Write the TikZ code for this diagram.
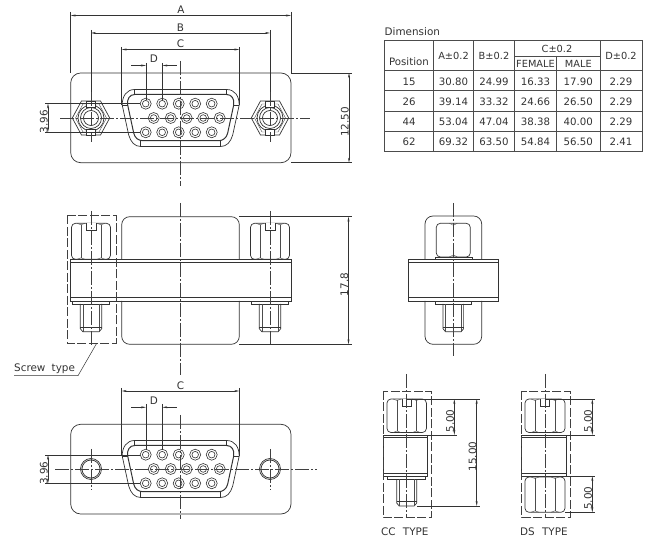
\documentclass[tikz,border=0pt]{standalone}
\usepackage{fontspec}
\setmainfont{DejaVu Sans}
\usetikzlibrary{arrows.meta}

\tikzset{
    part/.style={draw=black!80, line width=0.7pt},
    thin part/.style={draw=black!70, line width=0.4pt},
    center line/.style={draw=black!75, line width=0.5pt, dash pattern=on 14pt off 2pt on 2pt off 2pt},
    dash box/.style={draw=black!75, line width=0.6pt, dash pattern=on 9pt off 2.5pt},
    dim line/.style={draw=black!80, line width=0.5pt, {Stealth[length=5pt,width=2pt]}-{Stealth[length=5pt,width=2pt]}},
    one arrow/.style={draw=black!80, line width=0.5pt, -{Stealth[length=5pt,width=2pt]}},
    ext line/.style={draw=black!80, line width=0.5pt},
    grid line/.style={draw=black!70, line width=0.9pt},
    label/.style={font=\fontsize{10.4}{10}\selectfont, text=black!80, inner sep=0pt},
    vlabel/.style={label, rotate=90, anchor=south, xshift=-4pt},
    cell/.style={font=\fontsize{10.2}{10}\selectfont, text=black!80, inner sep=0pt},
    small cell/.style={font=\fontsize{9.8}{10}\selectfont, text=black!80, inner sep=0pt},
    pin/.style={draw=black!80, line width=0.6pt},
    dsub/.pic={
        \draw[part] (-46,-28.5) -- (46,-28.5) .. controls (54,-28.5) and (58.5,-22) .. (58.5,-13) -- (52,17) .. controls (50,24) and (46,28.5) .. (40,28.5) -- (-40,28.5) .. controls (-46,28.5) and (-50,24) .. (-52,17) -- (-58.5,-13) .. controls (-58.5,-22) and (-54,-28.5) .. cycle;
        \draw[part, line width=1pt] (-46,-23.5) -- (46,-23.5) .. controls (51,-23.5) and (54,-19) .. (53,-13) -- (47,15) .. controls (46,20) and (42,22.7) .. (38,22.7) -- (-38,22.7) .. controls (-42,22.7) and (-46,20) .. (-47,15) -- (-53,-13) .. controls (-54,-19) and (-51,-23.5) .. cycle;
        \draw[part] (-46,-28.5) -- (-46,-23.5) (46,-28.5) -- (46,-23.5) (-40,28.5) -- (-40,22.7) (40,28.5) -- (40,22.7);
        \draw[part] (-58.5,-13) -- (-53,-13) (58.5,-13) -- (53,-13);
        \foreach \px in {-35,-18.5,-2,14.5,31} {
            \draw[pin] (\px,-14.3) circle (5.5) (\px,-14.3) circle (3.3);
            \draw[pin] (\px,14.3) circle (5.5) (\px,14.3) circle (3.3);
        }
        \foreach \px in {-27,-10,6,22.5,39} {
            \draw[pin] (\px,0) circle (5.5) (\px,0) circle (3.3);
        }
    },
    jackscrew/.pic={
        \draw[part] (-18.7,0) -- (-9.5,-17) -- (9.5,-17) -- (18.7,0) -- (9.5,17) -- (-9.5,17) -- cycle;
        \draw[thin part] (-15.5,0) -- (-8,-14) -- (8,-14) -- (15.5,0) -- (8,14) -- (-8,14) -- cycle;
        \draw[part] (0,0) circle (13) (0,0) circle (10.5) (0,0) circle (7.5);
        \draw[part, fill=white] (-4.5,-17) rectangle (4.5,-11);
        \draw[part, fill=white] (-4.5,17) rectangle (4.5,11);
    }
}

% hexnut: centre x, half width, inner face, top, bottom
\newcommand{\hexnut}[5]{
    \draw[part, rounded corners=4pt] ({#1-#2},#4) rectangle ({#1+#2},#5);
    \ifdim #3pt>0pt
        \draw[thin part] ({#1-#3},{#4+1.5}) -- ({#1-#3},{#5-1.5}) ({#1+#3},{#4+1.5}) -- ({#1+#3},{#5-1.5});
        \draw[thin part] ({#1-#3-4},#4) -- ({#1-#3},{#4+1.5}) -- ({#1-#3+4},#4) ({#1+#3-4},#4) -- ({#1+#3},{#4+1.5}) -- ({#1+#3+4},#4);
        \draw[thin part] ({#1-#3-4},#5) -- ({#1-#3},{#5-1.5}) -- ({#1-#3+4},#5) ({#1+#3-4},#5) -- ({#1+#3},{#5-1.5}) -- ({#1+#3+4},#5);
    \else
        \draw[thin part] ({#1-4},#4) -- (#1,{#4+2}) -- ({#1+4},#4) ({#1-4},#5) -- (#1,{#5-2}) -- ({#1+4},#5);
    \fi
}
% slotcut: centre x, half width, top, bottom
\newcommand{\slotcut}[4]{
    \draw[part, fill=white] ({#1-#2},#3) -- ({#1-#2},#4) -- ({#1+#2},#4) -- ({#1+#2},#3);
}
% studend: centre x, half width, top, bottom
\newcommand{\studend}[4]{
    \draw[part] ({#1-#2},#3) -- ({#1-#2},{#4-3}) -- ({#1-#2+2.5},#4) -- ({#1+#2-2.5},#4) -- ({#1+#2},{#4-3}) -- ({#1+#2},#3);
    \draw[thin part] ({#1-#2+2.5},#3) -- ({#1-#2+2.5},#4) ({#1+#2-2.5},#3) -- ({#1+#2-2.5},#4);
    \draw[part] ({#1-#2},{#4-4.5}) -- ({#1+#2},{#4-4.5});
}
% flangebar: left, right, four y levels
\newcommand{\flangebar}[6]{
    \draw[part] (#1,#3) rectangle (#2,#6);
    \draw[part] (#1,#4) -- (#2,#4) (#1,#5) -- (#2,#5);
}

\begin{document}
\begin{tikzpicture}[x=1pt, y=-1pt]
    \useasboundingbox (0,0) rectangle (657,548);

    % front view
    \draw[part, rounded corners=10pt] (70.7,73) rectangle (291,162.7);
    \pic at (180.7,118) {dsub};
    \pic at (91,118) {jackscrew};
    \pic at (270,118) {jackscrew};
    \draw[center line] (60,118) -- (310,118);
    \draw[center line] (180.7,61) -- (180.7,186);
    \draw[center line] (91,92) -- (91,142);
    \draw[center line] (270,92) -- (270,142);

    \draw[ext line] (70.7,12) -- (70.7,73) (291,12) -- (291,73);
    \draw[dim line] (70.7,15.5) -- node[label, above=1.5pt] (dim_a) {A} (291,15.5);
    \draw[ext line] (91,30) -- (91,92) (270,30) -- (270,92);
    \draw[dim line] (91,33) -- node[label, above=1.5pt] (dim_b) {B} (270,33);
    \draw[ext line] (121.7,47) -- (121.7,105) (239.3,47) -- (239.3,105);
    \draw[dim line] (121.7,49.5) -- node[label, above=1.5pt] (dim_c) {C} (239.3,49.5);
    \draw[ext line] (146,63) -- (146,100) (162.3,63) -- (162.3,100);
    \draw[one arrow] (131,65.5) -- (146,65.5);
    \draw[one arrow] (176.7,65.5) -- (162.3,65.5);
    \node[label] (dim_d) at (154,59) {D};
    \draw[ext line] (45,103.5) -- (140,103.5) (45,132) -- (140,132);
    \draw[dim line] (48,103.5) -- node[vlabel] (dim_pitch) {3.96} (48,132);
    \draw[ext line] (291,73) -- (352,73) (291,162.7) -- (352,162.7);
    \draw[dim line] (349,73) -- node[vlabel] (dim_height) {12.50} (349,162.7);

    % side view
    \draw[part, rounded corners=8pt] (121.7,259.3) -- (121.7,216.7) -- (239.3,216.7) -- (239.3,259.3);
    \draw[part, rounded corners=8pt] (121.7,301) -- (121.7,344.3) -- (239.3,344.3) -- (239.3,301);
    \flangebar{70.7}{291}{259.3}{262.5}{297.7}{301}
    \foreach \sx in {91,270} {
        \hexnut{\sx}{19.5}{10}{223.3}{259.3}
        \slotcut{\sx}{5}{223.3}{230.7}
        \draw[part] ({\sx-18.5},301) rectangle ({\sx+18.5},304);
        \studend{\sx}{10.7}{304}{331.7}
        \draw[center line] (\sx,211) -- (\sx,346);
    }
    \draw[center line] (180.7,203) -- (180.7,375);
    \draw[dash box] (67.3,215.3) rectangle (116,343.3);
    \coordinate (leader_top) at (96.7,343.3);
    \coordinate (leader_bend) at (78,375.7);
    \coordinate (leader_end) at (14,375.7);
    \draw[ext line] (leader_top) -- (leader_bend) -- (leader_end);
    \node[label, anchor=base west] (screw_type) at (14,371.5) {Screw\hspace{0.6em}type};
    \draw[ext line] (239.3,216.7) -- (352,216.7) (239.3,344.3) -- (352,344.3);
    \draw[dim line] (348.5,216.7) -- node[vlabel] (dim_depth) {17.8} (348.5,344.3);

    % end view
    \draw[part, rounded corners=8pt] (425,259.3) -- (425,216) -- (481.7,216) -- (481.7,259.3);
    \draw[part, rounded corners=8pt] (425,301) -- (425,344.3) -- (481.7,344.3) -- (481.7,301);
    \flangebar{408.3}{498.7}{259.3}{262.7}{297.7}{301}
    \hexnut{453.3}{17}{0}{223.3}{257}
    \draw[part] (435,257) rectangle (472,259.3);
    \draw[part] (435,301) rectangle (471.7,304);
    \studend{453.3}{10.3}{304}{331.7}
    \draw[center line] (453.3,203) -- (453.3,356);

    % rear view
    \draw[part, rounded corners=10pt] (70.7,424.3) rectangle (291,514);
    \pic at (180.7,469) {dsub};
    \draw[part] (91,469) circle (10.5) (91,469) circle (9);
    \draw[part] (270,469) circle (10.5) (270,469) circle (9);
    \draw[center line] (55,469) -- (317,469);
    \draw[center line] (180.7,415) -- (180.7,519);
    \draw[center line] (91,449) -- (91,490);
    \draw[center line] (270,449) -- (270,490);

    \draw[ext line] (121.7,388) -- (121.7,456) (239.3,388) -- (239.3,456);
    \draw[dim line] (121.7,391) -- node[label, above=1.5pt] (rear_c) {C} (239.3,391);
    \draw[ext line] (146,404) -- (146,450) (162.3,404) -- (162.3,450);
    \draw[one arrow] (131,407.3) -- (146,407.3);
    \draw[one arrow] (176.7,407.3) -- (162.3,407.3);
    \node[label] (rear_d) at (154,401) {D};
    \draw[ext line] (45,455) -- (140,455) (45,483.3) -- (140,483.3);
    \draw[dim line] (48,455) -- node[vlabel] (rear_pitch) {3.96} (48,483.3);

    % CC type
    \hexnut{406.7}{19.7}{9.7}{399}{432.5}
    \slotcut{406.7}{4.2}{399}{406}
    \flangebar{383}{427.7}{435}{437.5}{473.3}{476}
    \draw[part] (387.7,476) rectangle (425,479.5);
    \studend{406.7}{10}{479.5}{506}
    \draw[dash box] (383,391) rectangle (431.3,517.7);
    \draw[center line] (406.7,374) -- (406.7,518);
    \draw[ext line] (406.7,399) -- (480,399) (427.7,435) -- (456.7,435) (417,506) -- (480,506);
    \draw[dim line] (454.3,399) -- node[vlabel] (cc_nut) {5.00} (454.3,435);
    \draw[dim line] (476.7,399) -- node[vlabel] (cc_total) {15.00} (476.7,506);
    \node[label, anchor=base west] (cc_type) at (381,536) {CC\hspace{0.7em}TYPE};

    % DS type
    \hexnut{545}{20}{10}{399}{432.5}
    \slotcut{545}{4.6}{399}{406}
    \flangebar{521.7}{566.3}{435}{437.5}{473.3}{476}
    \hexnut{545}{20}{10}{477}{512.3}
    \draw[dash box] (521.7,391) rectangle (570,517.7);
    \draw[center line] (545,374) -- (545,518);
    \draw[ext line] (545,399) -- (595,399) (566.3,435) -- (595,435) (566.3,476) -- (595,476) (565,512.3) -- (595,512.3);
    \draw[dim line] (592.3,399) -- node[vlabel] (ds_top) {5.00} (592.3,435);
    \draw[dim line] (592.3,476) -- node[vlabel] (ds_bottom) {5.00} (592.3,512.3);
    \node[label, anchor=base west] (ds_type) at (520,536) {DS\hspace{0.7em}TYPE};

    % table
    \node[label, anchor=base west] (table_title) at (384.5,36) {Dimension};
    \draw[grid line] (384.3,40.7) rectangle (642,151);
    \foreach \ty in {70.7,90.7,111,131} \draw[grid line] (384.3,\ty) -- (642,\ty);
    \foreach \tx in {433.3,473.7,514.3,600} \draw[grid line] (\tx,40.7) -- (\tx,151);
    \draw[grid line] (556.7,56) -- (556.7,151);
    \draw[grid line] (514.3,56) -- (600,56);
    \node[cell] (head_pos) at (409,61.5) {Position};
    \node[small cell] (head_a) at (453.5,56) {A±0.2};
    \node[small cell] (head_b) at (494,56) {B±0.2};
    \node[small cell] (head_c) at (557,48.5) {C±0.2};
    \node[small cell] (head_fem) at (535.5,63.7) {FEMALE};
    \node[small cell] (head_male) at (578.3,63.7) {MALE};
    \node[small cell] (head_d) at (621,56) {D±0.2};
    \foreach \tpos/\ta/\tb/\tcf/\tcm/\td/\ty [count=\tr] in {15/30.80/24.99/16.33/17.90/2.29/81.7, 26/39.14/33.32/24.66/26.50/2.29/102, 44/53.04/47.04/38.38/40.00/2.29/122.2, 62/69.32/63.50/54.84/56.50/2.41/142.2} {
        \node[cell] (pos\tr) at (409,\ty) {\tpos};
        \node[cell] (a\tr) at (453.5,\ty) {\ta};
        \node[cell] (b\tr) at (494,\ty) {\tb};
        \node[cell] (cf\tr) at (535.5,\ty) {\tcf};
        \node[cell] (cm\tr) at (578.3,\ty) {\tcm};
        \node[cell] (d\tr) at (621,\ty) {\td};
    }
\end{tikzpicture}
\end{document}
